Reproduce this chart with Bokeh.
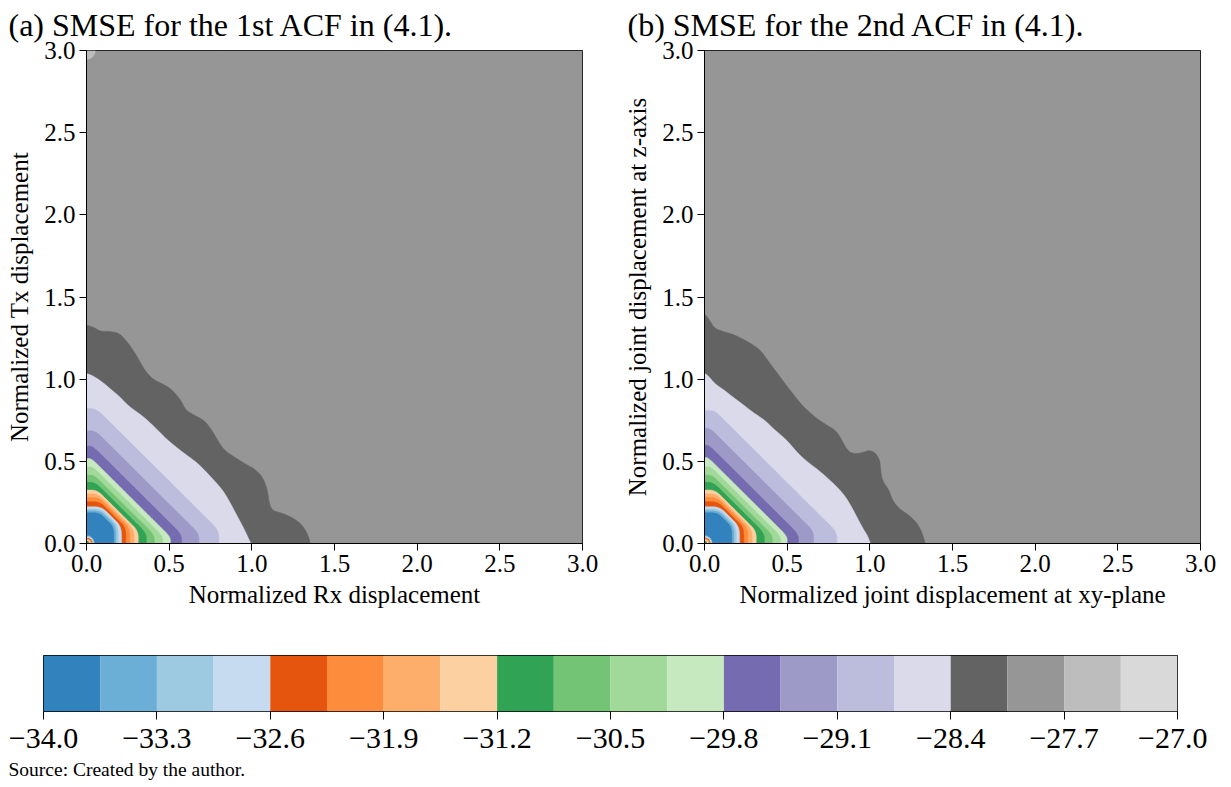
import numpy as np
from bokeh.plotting import figure
from bokeh.layouts import column, row
from bokeh.models import Range1d, FixedTicker, Title, ColumnDataSource
from bokeh.embed import file_html
from bokeh.resources import INLINE

# ---------------- data ----------------
LEVELS = [-34.0, -33.65, -33.3, -32.95, -32.6, -32.25, -31.9, -31.55, -31.2, -30.85,
          -30.5, -30.15, -29.8, -29.45, -29.1, -28.75, -28.4, -28.05, -27.7, -27.35, -27.0]
BAND_COLORS = ["#3182bd", "#6baed6", "#9ecae1", "#c6dbef", "#e6550d", "#fd8d3c", "#fdae6b", "#fdd0a2",
               "#31a354", "#74c476", "#a1d99b", "#c7e9c0", "#756bb1", "#9e9ac8", "#bcbddc", "#dadaeb",
               "#636363", "#969696", "#bdbdbd", "#d9d9d9"]
CB_TICKS = [-34.0, -33.3, -32.6, -31.9, -31.2, -30.5, -29.8, -29.1, -28.4, -27.7, -27.0]
CB_TICK_LABELS = ["\u221234.0", "\u221233.3", "\u221232.6", "\u221231.9", "\u221231.2", "\u221230.5",
                  "\u221229.8", "\u221229.1", "\u221228.4", "\u221227.7", "\u221227.0"]
AXIS_TICKS = [0.0, 0.5, 1.0, 1.5, 2.0, 2.5, 3.0]
AXIS_TICK_LABELS = ["0.0", "0.5", "1.0", "1.5", "2.0", "2.5", "3.0"]
X_LIM = [0.0, 3.0]
Y_LIM = [0.0, 3.0]
TITLES = ["(a) SMSE for the 1st ACF in (4.1).", "(b) SMSE for the 2nd ACF in (4.1)."]
SOURCE_TEXT = "Source: Created by the author."

# inner contour boundaries (outer edge of band 0..14): intercept on y axis, on x axis, x+y on diagonal part
A_INNER_AY = [0.187, 0.199, 0.210, 0.224, 0.254, 0.280, 0.302, 0.325, 0.372, 0.416, 0.466, 0.517, 0.592, 0.686, 0.820]
A_INNER_AX = [0.165, 0.178, 0.192, 0.212, 0.238, 0.262, 0.288, 0.313, 0.362, 0.410, 0.460, 0.508, 0.575, 0.680, 0.800]
A_INNER_C = [0.265, 0.283, 0.298, 0.315, 0.335, 0.355, 0.372, 0.390, 0.425, 0.462, 0.505, 0.548, 0.630, 0.740, 0.880]

B_INNER_AY = [0.187, 0.199, 0.210, 0.224, 0.254, 0.280, 0.302, 0.325, 0.372, 0.416, 0.466, 0.523, 0.598, 0.700, 0.810]
B_INNER_AX = [0.165, 0.178, 0.192, 0.212, 0.238, 0.262, 0.288, 0.313, 0.362, 0.410, 0.460, 0.500, 0.568, 0.660, 0.800]
B_INNER_C = [0.265, 0.283, 0.298, 0.315, 0.335, 0.355, 0.372, 0.390, 0.425, 0.462, 0.505, 0.545, 0.625, 0.735, 0.870]

# outer edge of band 15 (-28.4 contour)
A_B15_X = [0.0, 0.04, 0.10, 0.15, 0.20, 0.24, 0.29, 0.34, 0.39, 0.44, 0.49, 0.55, 0.61, 0.67, 0.72, 0.77, 0.82, 0.86, 0.91, 0.955, 0.985, 0.995]
A_B15_Y = [1.035, 1.02, 0.98, 0.935, 0.895, 0.85, 0.81, 0.775, 0.73, 0.68, 0.63, 0.58, 0.535, 0.49, 0.44, 0.385, 0.33, 0.265, 0.17, 0.085, 0.02, 0.0]
B_B15_X = [0.0, 0.02, 0.06, 0.12, 0.16, 0.24, 0.29, 0.365, 0.426, 0.497, 0.548, 0.609, 0.69, 0.77, 0.84, 0.89, 0.953, 0.985, 1.004]
B_B15_Y = [1.035, 1.024, 0.974, 0.933, 0.90, 0.84, 0.80, 0.75, 0.69, 0.63, 0.568, 0.507, 0.446, 0.375, 0.304, 0.223, 0.10, 0.05, 0.0]

# outer edge of band 16 (-28.05 contour)
A_B16_X = [0.0, 0.055, 0.085, 0.145, 0.196, 0.236, 0.287, 0.327, 0.358, 0.408, 0.479, 0.529, 0.57, 0.60, 0.65,
           0.711, 0.752, 0.792, 0.832, 0.893, 0.954, 1.014, 1.065, 1.095, 1.105, 1.125, 1.176, 1.236, 1.297, 1.337, 1.354]
A_B16_Y = [1.33, 1.31, 1.29, 1.29, 1.28, 1.24, 1.17, 1.10, 1.045, 0.994, 0.963, 0.923, 0.872, 0.811, 0.781,
           0.75, 0.70, 0.629, 0.568, 0.527, 0.487, 0.456, 0.406, 0.325, 0.243, 0.199, 0.187, 0.162, 0.122, 0.061, 0.0]
B_B16_X = [0.0, 0.03, 0.06, 0.11, 0.18, 0.26, 0.335, 0.375, 0.426, 0.487, 0.548, 0.609, 0.68, 0.74, 0.79, 0.82,
           0.862, 0.903, 0.953, 0.994, 1.034, 1.061, 1.065, 1.075, 1.116, 1.136, 1.176, 1.237, 1.288, 1.318, 1.335]
B_B16_Y = [1.40, 1.36, 1.31, 1.29, 1.27, 1.23, 1.18, 1.125, 1.055, 0.974, 0.892, 0.821, 0.76, 0.72, 0.69, 0.65,
           0.568, 0.544, 0.552, 0.568, 0.552, 0.507, 0.446, 0.385, 0.325, 0.264, 0.213, 0.172, 0.122, 0.061, 0.0]

# small peak at the origin: band index and radius
ORIGIN_BANDS = [1, 2, 3, 4, 5, 6, 7, 8]
ORIGIN_RADII = [0.050, 0.046, 0.042, 0.037, 0.032, 0.027, 0.022, 0.016]
# small light spot at top-left corner of panel (a)
A_CORNER_BAND = 18
A_CORNER_R = 0.055

SERIF = "Liberation Serif"


def densify(xs, ys, step):
    ox, oy = [xs[0]], [ys[0]]
    for x0, y0, x1, y1 in zip(xs[:-1], ys[:-1], xs[1:], ys[1:]):
        n = max(1, int(np.ceil(np.hypot(x1 - x0, y1 - y0) / step)))
        for k in range(1, n + 1):
            t = k / n
            ox.append(x0 + (x1 - x0) * t)
            oy.append(y0 + (y1 - y0) * t)
    return ox, oy


def chaikin(xs, ys, n):
    pts = [np.array([x, y], dtype=float) for x, y in zip(xs, ys)]
    for _ in range(n):
        new = [pts[0]]
        for p, q in zip(pts[:-1], pts[1:]):
            new.append(0.75 * p + 0.25 * q)
            new.append(0.25 * p + 0.75 * q)
        new.append(pts[-1])
        pts = new
    return [float(p[0]) for p in pts], [float(p[1]) for p in pts]


def chamfer(ay, ax, c):
    xs = [0.0, c - ay, ax, ax]
    ys = [ay, ay, c - ax, 0.0]
    dx, dy = densify(xs, ys, 0.11)
    return chaikin(dx, dy, 4)


def region(bx, by):
    return [0.0] + list(bx) + [0.0], [0.0] + list(by) + [0.0]


def make_panel(title, xlabel, ylabel, ay, ax, cc, b15x, b15y, b16x, b16y, corner_r,
               border_left, border_right, title_offset, width_frame=496):
    p = figure(frame_width=width_frame, frame_height=493,
               x_range=Range1d(X_LIM[0], X_LIM[1]), y_range=Range1d(Y_LIM[0], Y_LIM[1]),
               output_backend="svg", toolbar_location=None,
               min_border_left=border_left, min_border_right=border_right,
               min_border_top=50, min_border_bottom=70, title=title)
    p.title.align = "left"
    p.title.vertical_align = "top"
    p.title.offset = title_offset
    p.title.text_font = SERIF
    p.title.text_font_size = "32px"
    p.title.text_font_style = "normal"
    p.title.text_color = "black"
    p.title.standoff = 11
    p.grid.visible = False
    p.outline_line_color = "black"
    p.outline_line_width = 1
    p.background_fill_color = "white"

    # background band (17)
    p.quad(left=[X_LIM[0]], right=[X_LIM[1]], bottom=[Y_LIM[0]], top=[Y_LIM[1]],
           fill_color=BAND_COLORS[17], line_color=None)
    if corner_r > 0:
        p.wedge(x=[X_LIM[0]], y=[Y_LIM[1]], radius=corner_r, start_angle=-np.pi / 2, end_angle=0,
                fill_color=BAND_COLORS[A_CORNER_BAND], line_color=None)

    xs_list, ys_list, cols = [], [], []
    bx, by = chaikin(b16x, b16y, 2)
    rx, ry = region(bx, by)
    xs_list.append(rx); ys_list.append(ry); cols.append(BAND_COLORS[16])
    bx, by = chaikin(b15x, b15y, 2)
    rx, ry = region(bx, by)
    xs_list.append(rx); ys_list.append(ry); cols.append(BAND_COLORS[15])
    for i in range(len(ay) - 1, -1, -1):
        bx, by = chamfer(ay[i], ax[i], cc[i])
        rx, ry = region(bx, by)
        xs_list.append(rx); ys_list.append(ry); cols.append(BAND_COLORS[i])
    src = ColumnDataSource(dict(xs=xs_list, ys=ys_list, color=cols))
    p.patches(xs="xs", ys="ys", fill_color="color", line_color="color", line_width=0.5, source=src)

    osrc = ColumnDataSource(dict(x=[0.0] * len(ORIGIN_RADII), y=[0.0] * len(ORIGIN_RADII),
                                 r=ORIGIN_RADII, color=[BAND_COLORS[b] for b in ORIGIN_BANDS]))
    p.wedge(x="x", y="y", radius="r", start_angle=0, end_angle=np.pi / 2,
            fill_color="color", line_color=None, source=osrc)

    for axis in (p.xaxis[0], p.yaxis[0]):
        axis.ticker = FixedTicker(ticks=AXIS_TICKS)
        axis.major_label_overrides = {t: s for t, s in zip(AXIS_TICKS, AXIS_TICK_LABELS)}
        axis.major_label_text_font = SERIF
        axis.major_label_text_font_size = "25px"
        axis.major_label_text_color = "black"
        axis.axis_label_text_font = SERIF
        axis.axis_label_text_font_size = "25px"
        axis.axis_label_text_font_style = "normal"
        axis.axis_label_text_color = "black"
        axis.major_tick_out = 7
        axis.major_tick_in = 0
        axis.minor_tick_line_color = None
        axis.axis_line_color = "black"
        axis.major_tick_line_color = "black"
        axis.major_label_standoff = 4
    p.xaxis.axis_label = xlabel
    p.yaxis.axis_label = ylabel
    p.xaxis.axis_label_standoff = 6
    p.yaxis.axis_label_standoff = 8
    return p


pa = make_panel(TITLES[0], "Normalized Rx displacement", "Normalized Tx displacement",
                A_INNER_AY, A_INNER_AX, A_INNER_C, A_B15_X, A_B15_Y, A_B16_X, A_B16_Y,
                A_CORNER_R, 86, 30, -78)
pb = make_panel(TITLES[1], "Normalized joint displacement at xy-plane", "Normalized joint displacement at z-axis",
                B_INNER_AY, B_INNER_AX, B_INNER_C, B_B15_X, B_B15_Y, B_B16_X, B_B16_Y,
                0.0, 92, 23, -77)

# ---------------- colorbar ----------------
pc = figure(frame_width=1134, frame_height=56, x_range=Range1d(LEVELS[0], LEVELS[-1]),
            y_range=Range1d(0, 1), output_backend="svg", toolbar_location=None,
            min_border_left=43, min_border_right=30, min_border_top=42, min_border_bottom=75)
pc.grid.visible = False
pc.yaxis.visible = False
pc.outline_line_color = "black"
pc.outline_line_width = 1
csrc = ColumnDataSource(dict(left=LEVELS[:-1], right=LEVELS[1:], color=BAND_COLORS))
pc.quad(left="left", right="right", bottom=0, top=1, fill_color="color", line_color=None, source=csrc)
xa = pc.xaxis[0]
xa.ticker = FixedTicker(ticks=CB_TICKS)
xa.major_label_overrides = {t: s for t, s in zip(CB_TICKS, CB_TICK_LABELS)}
xa.major_label_text_font = SERIF
xa.major_label_text_font_size = "30px"
xa.major_label_text_color = "black"
xa.major_tick_out = 8
xa.major_tick_in = 0
xa.minor_tick_line_color = None
xa.axis_line_color = None
xa.major_tick_line_color = "black"
xa.major_label_standoff = 9
pc.add_layout(Title(text=SOURCE_TEXT, align="left", offset=-35,
                    text_font=SERIF, text_font_size="19.5px", text_font_style="normal",
                    text_color="black", standoff=12), "below")

layout = column(row(pa, pb), pc)
open("out.html", "w").write(file_html(layout, INLINE))
